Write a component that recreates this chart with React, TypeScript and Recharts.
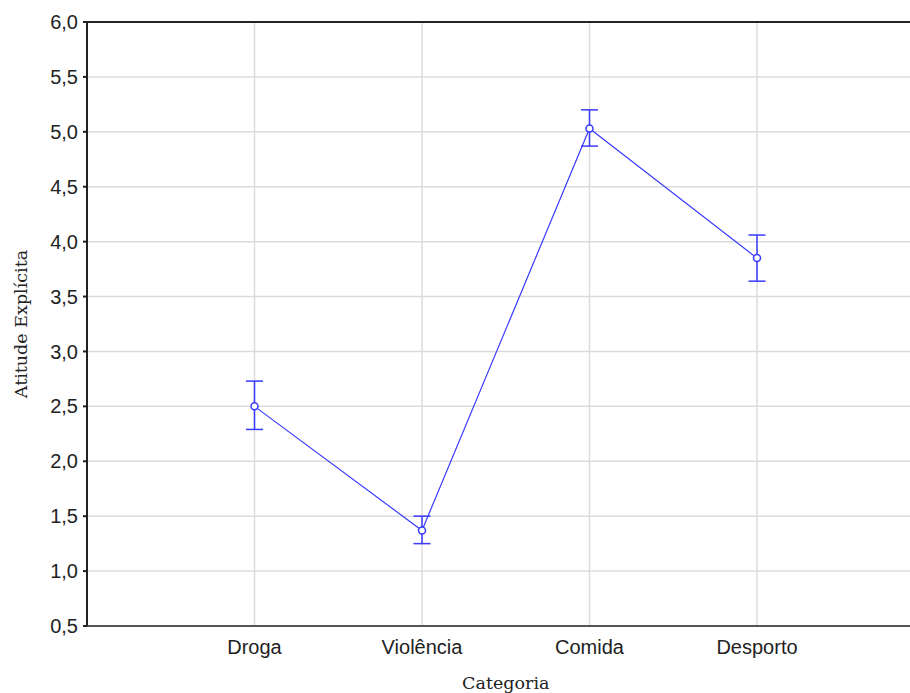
import React from 'react'
import {
  LineChart,
  Line,
  XAxis,
  YAxis,
  CartesianGrid,
  ErrorBar,
  ReferenceLine,
} from 'recharts'

// Categorias e médias (com erro inferior / superior)
const CATEGORIES = ['Droga', 'Violência', 'Comida', 'Desporto']
const MEANS = [2.5, 1.37, 5.03, 3.85]
const ERR_LOW = [0.21, 0.12, 0.16, 0.21]
const ERR_HIGH = [0.23, 0.13, 0.17, 0.21]
const Y_TICKS = [0.5, 1, 1.5, 2, 2.5, 3, 3.5, 4, 4.5, 5, 5.5, 6]
const X_TICKS = [1, 2, 3, 4]

const BLUE = '#3a3aff'
const SANS = '"Liberation Sans", Arial, sans-serif'
const SERIF = '"DejaVu Serif", serif'

const data = CATEGORIES.map((name, i) => ({
  name,
  pos: i + 1,
  mean: MEANS[i],
  err: [ERR_LOW[i], ERR_HIGH[i]],
}))

const fmt = (v: number) => v.toFixed(1).replace('.', ',')

export default function App() {
  return (
    <div style={{ position: 'absolute', left: 0, top: 0, width: 910, height: 693, overflow: 'hidden', background: '#fff' }}>
      <LineChart
        width={940}
        height={693}
        data={data}
        margin={{ top: 22, right: 15.5, left: 0, bottom: 0 }}
      >
        <CartesianGrid stroke="#dcdcdc" strokeWidth={1.5} />
        <XAxis
          type="number"
          dataKey="pos"
          domain={[0, 5]}
          ticks={X_TICKS}
          tickFormatter={(v: number) => CATEGORIES[v - 1]}
          height={67}
          tickSize={0}
          tickMargin={14}
          stroke="#555"
          strokeWidth={2}
          tick={{ fill: '#222', fontSize: 20, fontFamily: SANS }}
          label={{ value: 'Categoria', position: 'insideBottom', offset: 4, fill: '#222', fontSize: 17.5, fontFamily: SERIF }}
        />
        <YAxis
          type="number"
          domain={[0.5, 6]}
          ticks={Y_TICKS}
          tickFormatter={fmt}
          width={87}
          tickSize={4}
          tickMargin={5}
          stroke="#222"
          strokeWidth={2}
          interval={0}
          tick={{ fill: '#222', fontSize: 20, fontFamily: SANS }}
          label={{ value: 'Atitude Explícita', angle: -90, position: 'insideLeft', offset: 21, fill: '#222', fontSize: 17.5, fontFamily: SERIF, style: { textAnchor: 'middle' } }}
        />
        <ReferenceLine y={6} stroke="#222" strokeWidth={2} />
        <Line
          type="linear"
          dataKey="mean"
          stroke={BLUE}
          strokeWidth={1.2}
          dot={{ r: 3.5, fill: '#fff', stroke: BLUE, strokeWidth: 1.5 }}
          activeDot={false}
          isAnimationActive={false}
        >
          <ErrorBar dataKey="err" direction="y" width={8.5} stroke={BLUE} strokeWidth={1.5} />
        </Line>
      </LineChart>
    </div>
  )
}
